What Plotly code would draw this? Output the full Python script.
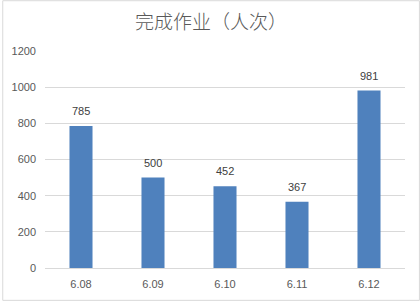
import plotly.graph_objects as go

categories = ["6.08", "6.09", "6.10", "6.11", "6.12"]
values = [785, 500, 452, 367, 981]
y_ticks = [0, 200, 400, 600, 800, 1000, 1200]

W, H = 420, 302
ml, mr, mt, mb = 43, 15, 51, 33

fig = go.Figure()
fig.add_trace(go.Bar(x=categories, y=values, marker=dict(color="#4F81BD", line=dict(width=0)),
                     hoverinfo="x+y"))

for i, v in enumerate(values):
    fig.add_annotation(x=i, y=v, text=str(v), showarrow=False, yanchor="middle",
                       yshift=15, font=dict(family="Liberation Sans, Arial", size=11, color="#404040"))

pw = W - ml - mr
ph = H - mt - mb
fig.add_shape(type="rect", xref="paper", yref="paper",
              x0=(-ml + 0.5) / pw, x1=(pw + mr - 0.5) / pw,
              y0=(-mb + 0.5) / ph, y1=(ph + mt - 0.5) / ph,
              line=dict(color="#D9D9D9", width=1), layer="below")

fig.update_layout(
    width=W, height=H,
    margin=dict(l=ml, r=mr, t=mt, b=mb),
    paper_bgcolor="white", plot_bgcolor="white",
    bargap=0.68,
    showlegend=False,
    title=dict(text="完成作业（人次）", x=211 / W, xref="container", xanchor="center",
               y=1 - 22 / H, yanchor="middle",
               font=dict(family="Noto Sans CJK SC", size=19, color="#595959", weight=300)),
    xaxis=dict(type="category", showgrid=False, showline=False, zeroline=False, ticks="",
               ticklabelstandoff=8,
               tickfont=dict(family="Liberation Sans, Arial", size=11, color="#595959")),
    yaxis=dict(range=[0, 1200], tickvals=y_ticks, showgrid=True, gridcolor="#D9D9D9",
               zeroline=True, zerolinecolor="#D9D9D9", zerolinewidth=1,
               showline=False, ticks="", ticklabelstandoff=8,
               tickfont=dict(family="Liberation Sans, Arial", size=11, color="#595959")),
)

fig.write_html("out.html")
